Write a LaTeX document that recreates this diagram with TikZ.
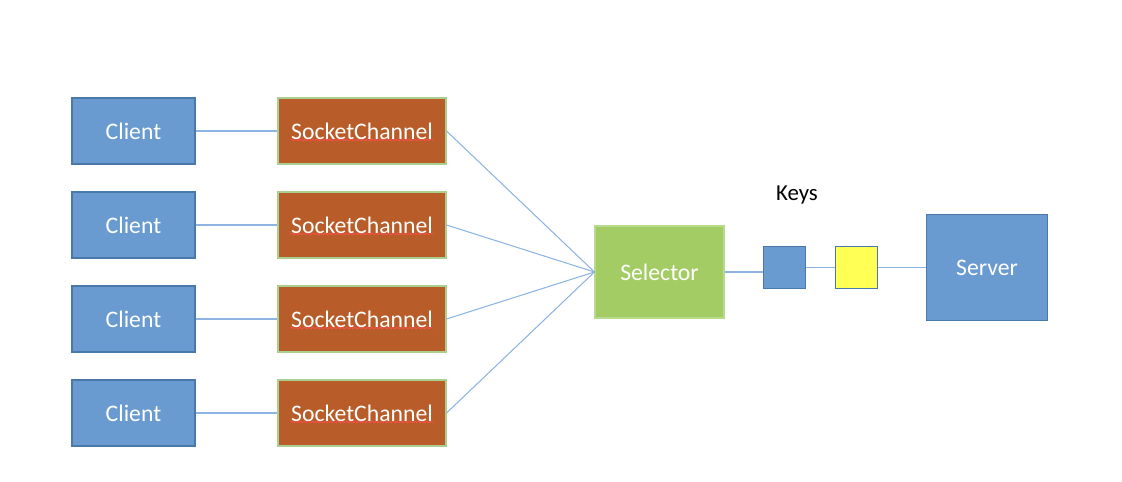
\documentclass[tikz,border=0pt]{standalone}
\usepackage{fontspec}
\setmainfont{Carlito}
\usetikzlibrary{positioning,decorations.pathmorphing}

\definecolor{boxblue}{HTML}{6A9BD0}
\definecolor{boxblueline}{HTML}{4A78A8}
\definecolor{sockorange}{HTML}{B85D29}
\definecolor{sockline}{HTML}{A9D08E}
\definecolor{selgreen}{HTML}{A3CD64}
\definecolor{selline}{HTML}{B8DA8C}
\definecolor{keyyellow}{HTML}{FFFF55}
\definecolor{wire}{HTML}{8DB4E2}

\tikzset{
  box/.style={draw, line width=0.6pt, inner sep=0pt, text=white,
    font=\fontsize{13.5}{16}\selectfont},
  client/.style={box, fill=boxblue, draw=boxblueline,
    minimum width=123*0.02cm, minimum height=66*0.02cm},
  channel/.style={box, fill=sockorange, draw=sockline,
    minimum width=168*0.02cm, minimum height=66*0.02cm},
  selector/.style={box, fill=selgreen, draw=selline,
    minimum width=129*0.02cm, minimum height=92*0.02cm},
  server/.style={box, fill=boxblue, draw=boxblueline,
    minimum width=121*0.02cm, minimum height=106*0.02cm},
  keybox/.style={box, draw=boxblueline,
    minimum width=42*0.02cm, minimum height=42*0.02cm},
  wireline/.style={draw=wire, line width=0.6pt},
  spell/.style={draw=red!70!white, line width=0.45pt,
    decorate, decoration={snake, amplitude=0.4pt, segment length=2.4pt}}
}

\begin{document}
\begin{tikzpicture}[x=0.02cm, y=-0.02cm]
        \useasboundingbox (0,0) rectangle (1122,482);

        \node[selector] at (659.5,272) (sel) {Selector};
        \foreach \i [count=\ni from 0] in {1,2,3,4}{
          \node[client] at (133.5,{131+\ni*94}) (client\i) {Client};
          \node[channel] at (362,{131+\ni*94}) (chan\i) {SocketChannel};
          % red spell-check underline
          \draw[spell] ([xshift=-71.5*0.02cm, yshift=-9*0.02cm]chan\i.center)
            -- ([xshift=71.5*0.02cm, yshift=-9*0.02cm]chan\i.center);
          \draw[wireline] (client\i) -- (chan\i);
          \draw[wireline] (chan\i.east) -- (sel.west);
        }

        \node[keybox, fill=boxblue] at (784.5,267.5) (keyA) {};
        \node[keybox, fill=keyyellow] at (856.5,267.5) (keyB) {};
        \node at (797,195) (keys) {\fontsize{13}{16}\selectfont Keys};
        \node[server] at (987,267.5) (srv) {Server};

        \draw[wireline] (sel.east) -- (keyA.west |- sel.east);
        \draw[wireline] (keyA) -- (keyB);
        \draw[wireline] (keyB) -- (srv);
\end{tikzpicture}
\end{document}
